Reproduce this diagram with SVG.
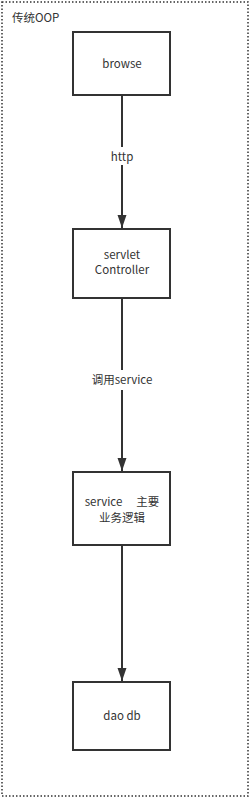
<svg xmlns="http://www.w3.org/2000/svg" width="251" height="800" viewBox="0 0 251 800">
<style>
.node rect{fill:#fff;stroke:#333;stroke-width:2}
text{font-family:"Noto Sans CJK SC","Open Sans",sans-serif;font-size:11.5px;fill:#333;text-anchor:middle}
.edge line{stroke:#333;stroke-width:2}
.lbl{fill:#fff}
</style>
<defs>
<marker id="ah" markerWidth="14" markerHeight="10" refX="13" refY="5" orient="auto" markerUnits="userSpaceOnUse">
<path d="M0,0.5 L13,5 L0,9.5 Z" fill="#333"/>
</marker>
</defs>
<rect x="2" y="2" width="246" height="794" fill="#fff" stroke="#333" stroke-width="1.5" stroke-dasharray="1.5 2"/>
<text x="12" y="22" style="text-anchor:start">传统OOP</text>
<g class="edge" id="connectors">
<line x1="122" y1="96" x2="122" y2="228" marker-end="url(#ah)"/>
<line x1="122" y1="299" x2="122" y2="471" marker-end="url(#ah)"/>
<line x1="122" y1="546" x2="122" y2="681" marker-end="url(#ah)"/>
<rect class="lbl" x="105" y="147" width="34" height="18"/>
<text x="122" y="161">http</text>
<rect class="lbl" x="86" y="370" width="72" height="20"/>
<text x="122" y="384">调用service</text>
</g>
<g class="node" id="browse"><rect x="73" y="32" width="97" height="63"/><text x="122" y="68">browse</text></g>
<g class="node" id="servlet"><rect x="73" y="229" width="97" height="69"/><text x="122" y="259">servlet</text><text x="122" y="274">Controller</text></g>
<g class="node" id="service"><rect x="73" y="472" width="97" height="73"/><text x="122" y="506">service　 主要</text><text x="122" y="522">业务逻辑</text></g>
<g class="node" id="dao"><rect x="73" y="682" width="97" height="68"/><text x="122" y="720">dao db</text></g>
</svg>
